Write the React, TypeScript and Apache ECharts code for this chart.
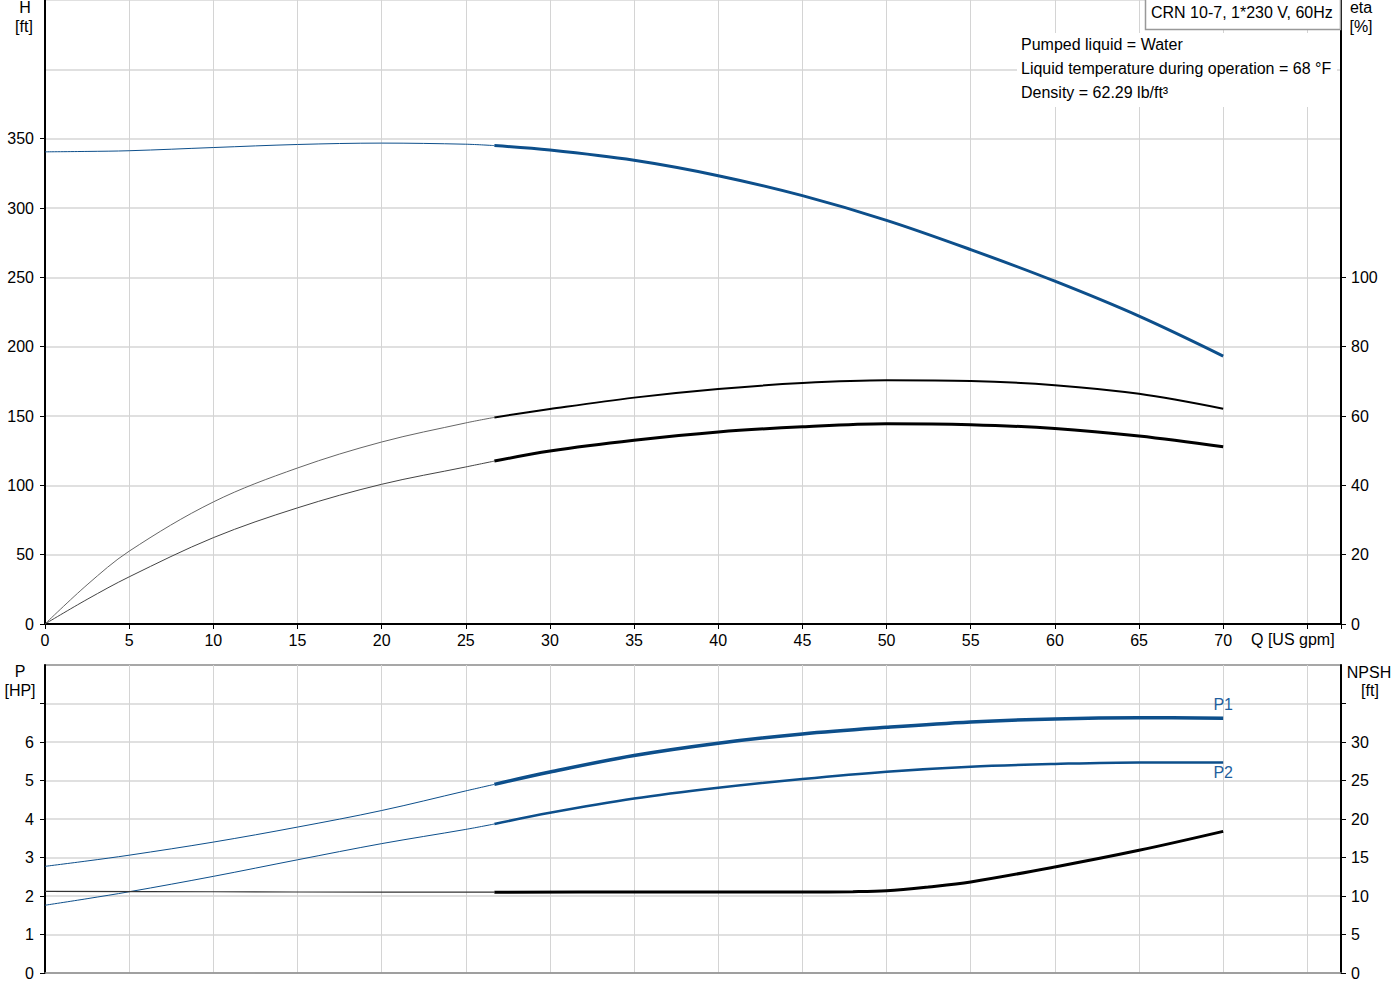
import { useEffect, useRef } from "react";
import * as echarts from "echarts";

const BLUE = "#0d4f8b";
const LABEL_BLUE = "#1f5f9e";
const FONT = "Liberation Sans, Arial, sans-serif";

// 流量 Q [US gpm]; 索引 SPLIT (26.7) 之前是细线, 之后是粗线 (推荐工作区)
const Q = [0, 2.5, 5, 10, 15, 20, 25, 26.7, 30, 35, 40, 45, 50, 55, 60, 65, 70];
const SPLIT = 7;
const H = [340.5, 340.8, 341.3, 343.6, 345.8, 346.8, 346.0, 345.0, 341.8, 334.4, 323.3, 308.9, 291.1, 270.0, 247.2, 222.0, 193.2];
const ETA = [0, 11.3, 21.0, 35.2, 45.0, 52.5, 58.0, 59.6, 62.0, 65.3, 67.8, 69.5, 70.3, 70.1, 68.9, 66.4, 62.1];
const ETA_TOTAL = [0, 7.1, 13.6, 24.9, 33.5, 40.3, 45.3, 47.0, 49.9, 53.0, 55.4, 56.9, 57.8, 57.5, 56.4, 54.2, 51.1];
const P1 = [2.77, 2.91, 3.06, 3.4, 3.79, 4.22, 4.73, 4.9, 5.22, 5.65, 5.97, 6.21, 6.38, 6.52, 6.6, 6.63, 6.62];
const P2 = [1.76, 1.93, 2.11, 2.51, 2.94, 3.36, 3.73, 3.87, 4.16, 4.53, 4.81, 5.04, 5.23, 5.36, 5.43, 5.47, 5.47];
// NPSH 自带 Q 点 (约 50 gpm 处有拐点)
const Q_NPSH = [0, 10, 20, 26.7, 35, 45, 48, 50, 52.5, 55, 60, 65, 70];
const NPSH = [10.6, 10.55, 10.5, 10.5, 10.51, 10.52, 10.56, 10.68, 11.18, 11.83, 13.77, 15.93, 18.39];
const SPLIT_NPSH = 3;

// 刻度 / 标签
const H_TICKS = [0, 50, 100, 150, 200, 250, 300, 350];
const ETA_TICKS = [0, 20, 40, 60, 80, 100];
const P_TICKS = [0, 1, 2, 3, 4, 5, 6, 7];
const NPSH_TICKS = [0, 5, 10, 15, 20, 25, 30, 35];
const H_LABEL_MAX = 350;
const ETA_LABEL_MAX = 100;
const P_LABEL_MAX = 6;
const NPSH_LABEL_MAX = 30;
const Q_LABEL_MAX = 70;

const TITLE = "CRN 10-7, 1*230 V, 60Hz";
const INFO = [
  "Pumped liquid = Water",
  "Liquid temperature during operation = 68 °F",
  "Density = 62.29 lb/ft³",
];

const pairs = (xs: number[], ys: number[], from: number, to: number) =>
  xs.slice(from, to).map((x, i) => [x, ys[from + i]]);

function gtxt(align: string) {
  return { fill: "#000", font: `16px ${FONT}`, align, verticalAlign: "middle" };
}

export default function App() {
  const ref = useRef<HTMLDivElement>(null);

  useEffect(() => {
    if (!ref.current) return;
    const inst = echarts.init(ref.current, undefined, { renderer: "svg" });

    const txt = { fontFamily: FONT, fontSize: 16, color: "#000" };
    const hGrid = { show: true, lineStyle: { color: "#e0e0e0", width: 2 } };
    const vGrid = { show: true, lineStyle: { color: "#d4d4d4", width: 1 } };
    const blackLine = { show: true, lineStyle: { color: "#000", width: 2 } };
    const cut = (max: number) => (v: number) => (v <= max ? String(v) : "");

    const line = (
      name: string, data: number[][], x: number, y: number, color: string, width: number,
      extra: Record<string, unknown> = {},
    ) => ({
      name, type: "line", data, xAxisIndex: x, yAxisIndex: y,
      smooth: 0.35, showSymbol: false, symbol: "none", silent: true,
      lineStyle: { color, width }, z: 5, ...extra,
    });

    // P1 / P2 曲线末端的文字
    const endTag = (arr: number[][], pos: string, dist: number, text: string) => ({
      markPoint: {
        silent: true, symbol: "circle", symbolSize: 0,
        label: { show: true, position: pos, distance: dist, formatter: text, color: LABEL_BLUE, fontFamily: FONT, fontSize: 16 },
        data: [{ coord: arr[arr.length - 1] }],
      },
    });

    const n = Q.length;
    const p1Thick = pairs(Q, P1, SPLIT, n);
    const p2Thick = pairs(Q, P2, SPLIT, n);

    inst.setOption({
      animation: false,
      backgroundColor: "#fff",
      textStyle: { fontFamily: FONT },
      grid: [
        { left: 45, top: 0, width: 1296, height: 624 },
        { left: 45, top: 665, width: 1296, height: 308, show: true, borderColor: "#8a8a8a", borderWidth: 1.5 },
      ],
      xAxis: [
        {
          gridIndex: 0, type: "value", min: 0, max: 77, interval: 5,
          axisLine: blackLine,
          axisTick: { show: true, length: 5, lineStyle: { color: "#000" } },
          axisLabel: { ...txt, margin: 8, formatter: cut(Q_LABEL_MAX) },
          splitLine: vGrid,
        },
        {
          gridIndex: 1, type: "value", min: 0, max: 77, interval: 5,
          axisLine: { show: true, lineStyle: { color: "#8a8a8a", width: 1.5 } },
          axisTick: { show: false }, axisLabel: { show: false },
          splitLine: vGrid,
        },
      ],
      yAxis: [
        {
          gridIndex: 0, position: "left", min: 0, max: 450, interval: 50,
          axisLine: { show: false }, axisTick: { show: false }, axisLabel: { show: false },
          splitLine: hGrid,
        },
        {
          gridIndex: 0, position: "left", min: 0, max: 450, interval: 50,
          axisLine: blackLine,
          axisTick: { show: true, length: 5, customValues: H_TICKS, lineStyle: { color: "#000" } },
          axisLabel: { ...txt, margin: 11, formatter: cut(H_LABEL_MAX) },
          splitLine: { show: false },
        },
        {
          gridIndex: 0, position: "right", min: 0, max: 180, interval: 20,
          axisLine: blackLine,
          axisTick: { show: true, length: 5, customValues: ETA_TICKS, lineStyle: { color: "#000" } },
          axisLabel: { ...txt, margin: 10, formatter: cut(ETA_LABEL_MAX) },
          splitLine: { show: false },
        },
        {
          gridIndex: 1, position: "left", min: 0, max: 8, interval: 1,
          axisLine: blackLine,
          axisTick: { show: true, length: 5, customValues: P_TICKS, lineStyle: { color: "#000" } },
          axisLabel: { ...txt, margin: 11, formatter: cut(P_LABEL_MAX) },
          splitLine: hGrid,
        },
        {
          gridIndex: 1, position: "right", min: 0, max: 40, interval: 5,
          axisLine: blackLine,
          axisTick: { show: true, length: 5, customValues: NPSH_TICKS, lineStyle: { color: "#000" } },
          axisLabel: { ...txt, margin: 10, formatter: cut(NPSH_LABEL_MAX) },
          splitLine: { show: false },
        },
      ],
      series: [
        line("H", pairs(Q, H, 0, SPLIT + 1), 0, 1, BLUE, 1),
        line("H+", pairs(Q, H, SPLIT, n), 0, 1, BLUE, 3),
        line("eta", pairs(Q, ETA, 0, SPLIT + 1), 0, 2, "#666", 1),
        line("eta+", pairs(Q, ETA, SPLIT, n), 0, 2, "#000", 2),
        line("etaT", pairs(Q, ETA_TOTAL, 0, SPLIT + 1), 0, 2, "#444", 1),
        line("etaT+", pairs(Q, ETA_TOTAL, SPLIT, n), 0, 2, "#000", 3),
        line("P1", pairs(Q, P1, 0, SPLIT + 1), 1, 3, BLUE, 1),
        line("P1+", p1Thick, 1, 3, BLUE, 3.5, endTag(p1Thick, "top", 6, "P1")),
        line("P2", pairs(Q, P2, 0, SPLIT + 1), 1, 3, BLUE, 1),
        line("P2+", p2Thick, 1, 3, BLUE, 2.5, endTag(p2Thick, "bottom", 2, "P2")),
        line("NPSH", pairs(Q_NPSH, NPSH, 0, SPLIT_NPSH + 1), 1, 4, "#333", 1.2),
        line("NPSH+", pairs(Q_NPSH, NPSH, SPLIT_NPSH, Q_NPSH.length), 1, 4, "#000", 3),
      ],
      graphic: [
        // 轴名
        { type: "text", x: 25, y: 7, style: { text: "H", ...gtxt("center") } },
        { type: "text", x: 24, y: 26, style: { text: "[ft]", ...gtxt("center") } },
        { type: "text", x: 1361, y: 7, style: { text: "eta", ...gtxt("center") } },
        { type: "text", x: 1361, y: 26, style: { text: "[%]", ...gtxt("center") } },
        { type: "text", x: 20, y: 671, style: { text: "P", ...gtxt("center") } },
        { type: "text", x: 20, y: 690, style: { text: "[HP]", ...gtxt("center") } },
        { type: "text", x: 1369, y: 672, style: { text: "NPSH", ...gtxt("center") } },
        { type: "text", x: 1370, y: 690, style: { text: "[ft]", ...gtxt("center") } },
        { type: "text", x: 1251, y: 639, style: { text: "Q [US gpm]", ...gtxt("left") } },
        // 标题框
        {
          type: "rect", z: 10,
          shape: { x: 1145.5, y: -2, width: 195, height: 31.5 },
          style: { fill: "#fff", stroke: "#999", lineWidth: 1.5 },
        },
        { type: "text", z: 11, x: 1151, y: 12, style: { text: TITLE, ...gtxt("left") } },
        // 介质信息 (白底)
        {
          type: "rect", z: 10,
          shape: { x: 1017, y: 33, width: 320, height: 74 },
          style: { fill: "#fff" },
        },
        ...INFO.map((t, i) => ({ type: "text", z: 11, x: 1021, y: 44 + i * 24, style: { text: t, ...gtxt("left") } })),
      ],
    });

    return () => inst.dispose();
  }, []);

  return <div ref={ref} style={{ position: "absolute", left: 0, top: 0, width: 1400, height: 1000 }} />;
}
